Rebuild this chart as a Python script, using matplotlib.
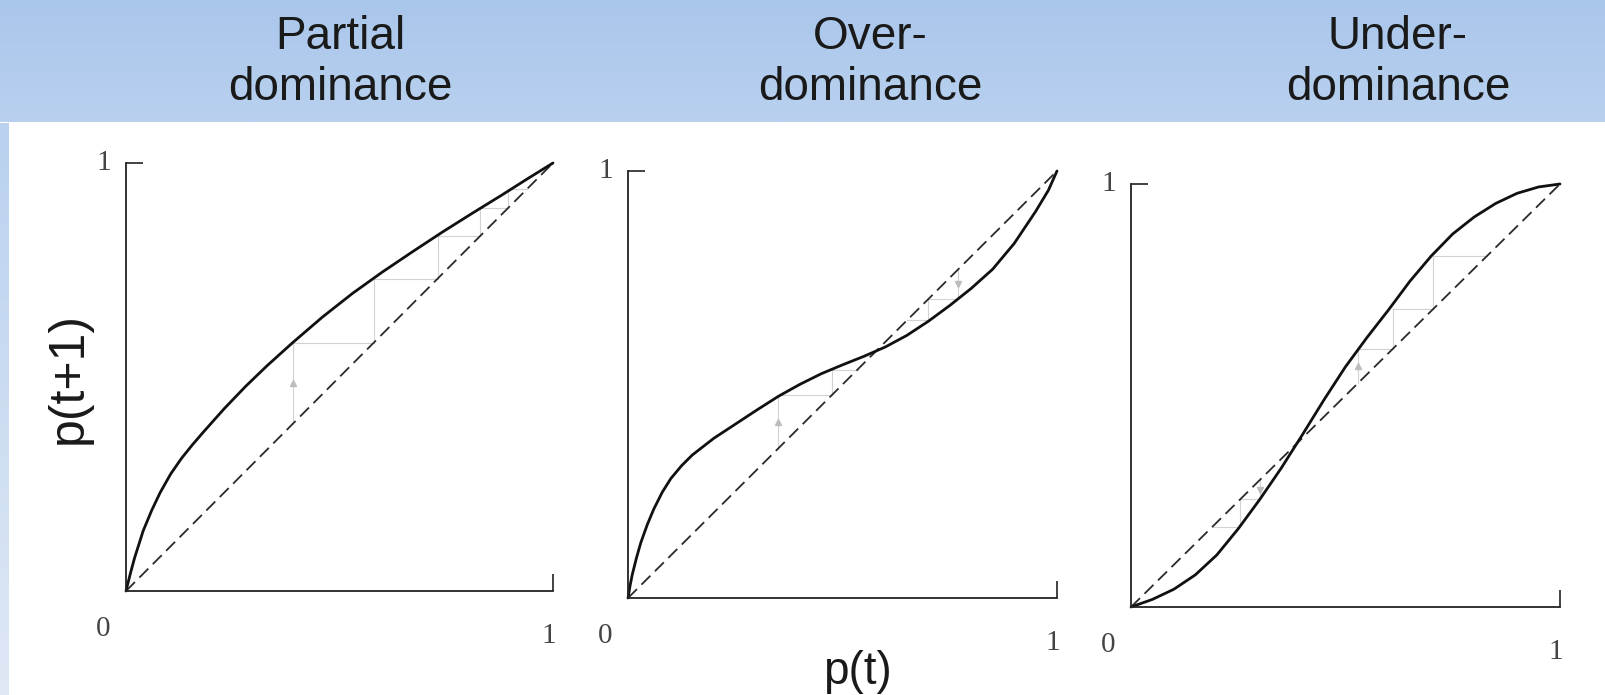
import numpy as np
import matplotlib
matplotlib.use("Agg")
import matplotlib.pyplot as plt
from matplotlib.colors import LinearSegmentedColormap

# Panel titles
titles = [("Partial", "dominance"), ("Over-", "dominance"), ("Under-", "dominance")]

# p(t) -> p(t+1) curves
p_partial = [0, 0.01, 0.02, 0.04, 0.06, 0.08, 0.105, 0.13, 0.155, 0.18, 0.23, 0.28,
             0.33, 0.39, 0.46, 0.53, 0.6, 0.67, 0.74, 0.81, 0.88, 0.94, 1.0]
f_partial = [0, 0.04, 0.077, 0.14, 0.188, 0.23, 0.274, 0.31, 0.341, 0.37, 0.426, 0.478,
             0.526, 0.58, 0.64, 0.695, 0.745, 0.792, 0.838, 0.882, 0.925, 0.963, 1.0]

p_over = [0, 0.005, 0.01, 0.02, 0.03, 0.045, 0.06, 0.08, 0.1, 0.125, 0.15, 0.2, 0.25,
          0.3, 0.35, 0.4, 0.45, 0.5, 0.55, 0.6, 0.65, 0.7, 0.75, 0.8, 0.85, 0.9, 0.95,
          0.98, 1.0]
f_over = [0, 0.03, 0.055, 0.095, 0.13, 0.172, 0.208, 0.248, 0.28, 0.31, 0.335, 0.374,
          0.407, 0.44, 0.472, 0.5, 0.525, 0.546, 0.566, 0.588, 0.615, 0.648, 0.685,
          0.725, 0.77, 0.83, 0.905, 0.955, 1.0]

p_under = [0, 0.05, 0.1, 0.15, 0.2, 0.25, 0.3, 0.35, 0.4, 0.45, 0.5, 0.55, 0.6,
           0.65, 0.7, 0.75, 0.8, 0.85, 0.9, 0.95, 1.0]
f_under = [0, 0.018, 0.042, 0.076, 0.123, 0.185, 0.254, 0.328, 0.408, 0.49, 0.568, 0.637,
           0.702, 0.77, 0.83, 0.882, 0.922, 0.954, 0.978, 0.993, 1.0]

# faint cobweb iterates (p0, p1, p2, ...)
cobweb_partial = [[0.39, 0.58, 0.73, 0.83, 0.895, 0.94]]
cobweb_over = [[0.35, 0.475, 0.535], [0.77, 0.70, 0.65]]
cobweb_under = [[0.53, 0.61, 0.705, 0.83], [0.30, 0.255, 0.19]]

W, H = 1606, 695
fig = plt.figure(figsize=(W / 100, H / 100), dpi=100)
fig.patch.set_facecolor("white")

# header band with soft blue gradient
hdr = 122.5
ax_h = fig.add_axes([0, 1 - hdr / H, 1, hdr / H])
cm_h = LinearSegmentedColormap.from_list("hdr", ["#a9c6eb", "#b9d1ef"])
ax_h.imshow(np.linspace(0, 1, 100).reshape(-1, 1), aspect="auto", cmap=cm_h,
            extent=[0, 1, 0, 1], origin="upper")
ax_h.axis("off")

# left strip
ax_l = fig.add_axes([0, 0, 9 / W, 1 - hdr / H])
cm_l = LinearSegmentedColormap.from_list("strip", ["#b9d1ef", "#dfe8f5"])
ax_l.imshow(np.linspace(0, 1, 100).reshape(-1, 1), aspect="auto", cmap=cm_l,
            extent=[0, 1, 0, 1], origin="upper")
ax_l.axis("off")

sans = "Liberation Sans"
serif = "Liberation Serif"

title_x = [340, 870, 1398]
for (l1, l2), tx in zip(titles, title_x):
    fig.text(tx / W, 1 - 49 / H, l1, ha="center", va="baseline", fontsize=33,
             family=sans, color="#1a1a1a")
    fig.text(tx / W, 1 - 100 / H, l2, ha="center", va="baseline", fontsize=33,
             family=sans, color="#1a1a1a")

# panel geometry: origin pixel and unit size in pixels
panels = [
    ((126, 591), (427, 428), p_partial, f_partial, cobweb_partial),
    ((628, 598), (429, 427), p_over, f_over, cobweb_over),
    ((1131, 607), (429, 423), p_under, f_under, cobweb_under),
]

for (ox, oy), (sx, sy), px, fy, webs in panels:
    ax = fig.add_axes([ox / W, 1 - oy / H, sx / W, sy / H])
    ax.set_xlim(0, 1)
    ax.set_ylim(0, 1)
    ax.patch.set_alpha(0)
    for s in ["top", "right"]:
        ax.spines[s].set_visible(False)
    for s in ["left", "bottom"]:
        ax.spines[s].set_color("#222222")
        ax.spines[s].set_linewidth(1.3)
    ax.set_xticks([1])
    ax.set_yticks([1])
    ax.set_xticklabels([])
    ax.set_yticklabels([])
    ax.tick_params(direction="in", length=12, width=1.2, color="#222222")

    # cobweb staircases
    for seq in webs:
        for a, b in zip(seq[:-1], seq[1:]):
            ax.plot([a, a], [a, b], color="#d2d2d2", lw=0.8, clip_on=False)
            ax.plot([a, b], [b, b], color="#d2d2d2", lw=0.8, clip_on=False)
        a0, b0 = seq[0], seq[1]
        ax.plot(a0, (a0 + b0) / 2, marker="^" if b0 > a0 else "v", ms=5,
                color="#bdbdbd", clip_on=False)

    # diagonal p(t+1) = p(t)
    ax.plot([0, 1], [0, 1], color="#2a2a2a", lw=1.3, dashes=(7, 3.5), clip_on=False)
    # recursion curve
    ax.plot(px, fy, color="#111111", lw=2.0, clip_on=False, solid_capstyle="round",
            solid_joinstyle="round")

    ax.annotate("1", xy=(0, 1), xytext=(-22, 0), textcoords="offset pixels",
                ha="center", va="center", fontsize=21, family=serif, color="#444444")
    ax.annotate("0", xy=(0, 0), xytext=(-23, -38), textcoords="offset pixels",
                ha="center", va="center", fontsize=21, family=serif, color="#444444")
    ax.annotate("1", xy=(1, 0), xytext=(-4, -45), textcoords="offset pixels",
                ha="center", va="center", fontsize=21, family=serif, color="#444444")

fig.text(69 / W, 1 - 378 / H, "p(t+1)", rotation=90, ha="center", va="center",
         fontsize=36, family=sans, color="#1a1a1a")
fig.text(857 / W, 1 - 672 / H, "p(t)", ha="center", va="center",
         fontsize=33, family=sans, color="#1a1a1a")

fig.savefig("out.png", dpi=100)
